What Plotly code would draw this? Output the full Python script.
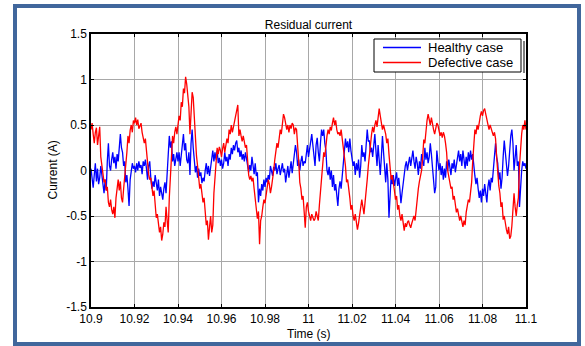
import numpy as np
import plotly.graph_objects as go

t_start, t_end, n_samples = 10.9, 11.1, 401
time_s = np.linspace(t_start, t_end, n_samples)

healthy = [
    0.02, -0.10, -0.19, -0.05, 0.08, -0.12, 0.02, -0.15, -0.08, 0.05,
    -0.05, -0.18, -0.25, -0.10, -0.22, 0.10, 0.30, 0.05, 0.00, 0.12,
    0.20, 0.08, 0.15, 0.02, 0.18, 0.10, 0.28, 0.40, 0.25, 0.20,
    0.05, 0.10, -0.13, -0.05, -0.20, -0.39, -0.10, 0.00, 0.08, 0.02,
    0.05, -0.02, 0.08, 0.00, 0.10, 0.03, 0.06, -0.04, 0.10, 0.05,
    0.12, 0.02, -0.10, 0.05, 0.10, -0.08, -0.20, -0.12, -0.18, -0.05,
    -0.13, -0.22, -0.10, -0.28, -0.18, -0.25, -0.32, -0.20, -0.13, -0.25,
    -0.05, 0.16, 0.38, 0.25, 0.32, 0.10, 0.18, 0.05, 0.12, 0.20,
    0.10, 0.20, 0.05, 0.15, 0.28, 0.40, 0.22, 0.30, 0.12, 0.08,
    0.20, -0.05, 0.30, 0.45, 0.25, 0.10, -0.02, 0.05, -0.08, 0.02,
    -0.06, -0.02, -0.14, -0.08, -0.12, 0.00, 0.08, -0.04, 0.05, -0.06,
    0.06, 0.15, 0.22, 0.10, 0.20, 0.12, 0.22, 0.08, 0.14, 0.05,
    0.12, 0.02, 0.08, 0.20, 0.10, 0.15, 0.05, 0.18, 0.12, 0.25,
    0.18, 0.28, 0.22, 0.30, 0.33, 0.20, 0.25, 0.15, 0.22, 0.12,
    0.18, 0.10, 0.20, 0.13, 0.05, -0.02, 0.06, 0.00, 0.15, 0.04,
    -0.04, 0.08, -0.06, -0.02, -0.35, -0.20, -0.28, -0.15, -0.22, -0.10,
    -0.18, -0.08, -0.13, -0.05, -0.10, 0.05, 0.00, -0.06, 0.04, 0.00,
    0.08, -0.04, 0.02, 0.06, -0.05, 0.04, 0.08, -0.02, 0.02, -0.13,
    -0.05, 0.05, -0.08, 0.02, 0.10, -0.03, 0.08, 0.15, 0.28, 0.20,
    0.05, 0.12, 0.00, 0.10, 0.16, 0.05, 0.10, 0.08, 0.20, 0.28,
    0.15, 0.22, 0.30, 0.40, 0.28, 0.15, 0.05, 0.28, 0.36, 0.20,
    0.10, 0.30, 0.45, 0.38, 0.45, 0.30, 0.22, 0.00, -0.05, 0.04,
    -0.10, 0.00, -0.18, -0.05, -0.22, -0.15, -0.25, -0.39, -0.20, -0.12,
    -0.20, -0.06, 0.05, 0.15, 0.35, 0.25, 0.32, 0.20, 0.35, 0.22,
    0.15, 0.05, 0.10, -0.05, 0.08, 0.00, 0.12, -0.08, 0.05, 0.28,
    0.15, 0.20, 0.10, 0.30, 0.45, 0.32, 0.33, 0.20, 0.25, 0.15,
    0.30, 0.40, 0.22, 0.05, 0.28, 0.10, -0.05, 0.15, 0.38, 0.20,
    0.05, -0.13, 0.08, -0.10, -0.52, -0.20, -0.06, -0.15, -0.05, -0.17,
    -0.10, -0.02, -0.17, -0.08, -0.20, -0.36, -0.25, -0.13, -0.05, 0.05,
    0.10, 0.00, 0.08, 0.15, 0.05, 0.12, 0.22, 0.10, 0.02, 0.15,
    0.08, -0.05, 0.10, 0.02, 0.18, 0.10, 0.05, 0.25, 0.12, 0.20,
    0.08, 0.15, 0.30, 0.18, 0.05, -0.10, -0.25, -0.18, 0.22, 0.10,
    0.00, 0.08, -0.05, 0.05, -0.10, 0.02, -0.08, 0.10, 0.00, 0.12,
    0.05, -0.05, 0.08, 0.02, 0.12, -0.02, 0.06, 0.15, 0.22, 0.10,
    0.18, 0.05, 0.22, 0.12, 0.02, 0.15, 0.05, 0.20, 0.10, 0.22,
    0.12, 0.18, 0.02, -0.06, -0.15, -0.08, -0.20, -0.30, -0.22, -0.35,
    -0.20, -0.28, -0.15, -0.25, -0.35, -0.18, -0.10, -0.22, -0.08, -0.13,
    0.05, 0.18, 0.30, 0.15, 0.08, -0.10, -0.02, -0.20, -0.08, 0.15,
    0.33, 0.20, 0.10, -0.06, 0.05, 0.25, 0.38, 0.45, 0.30, 0.00,
    0.15, 0.28, 0.05, 0.10, -0.40, -0.15, 0.00, 0.10, 0.05, 0.08,
    0.02,
]

defective = [
    0.45, 0.52, 0.40, 0.30, 0.42, 0.47, 0.28, 0.36, 0.48, 0.15,
    0.05, -0.06, -0.13, -0.10, -0.22, -0.18, -0.35, -0.40, -0.32, -0.43,
    -0.48, -0.40, -0.52, -0.30, -0.18, -0.10, -0.22, -0.12, -0.30, -0.35,
    -0.20, -0.08, 0.05, 0.20, 0.38, 0.30, 0.44, 0.50, 0.42, 0.55,
    0.52, 0.58, 0.50, 0.56, 0.46, 0.50, 0.52, 0.42, 0.36, 0.30,
    0.35, 0.22, 0.05, -0.04, -0.10, -0.08, -0.18, -0.28, -0.22, -0.40,
    -0.52, -0.48, -0.60, -0.68, -0.62, -0.77, -0.70, -0.57, -0.62, -0.40,
    -0.55, -0.68, -0.30, 0.00, 0.15, 0.38, 0.30, 0.42, 0.48, 0.40,
    0.52, 0.60, 0.55, 0.75, 0.70, 0.90, 0.85, 1.03, 0.95, 0.80,
    0.70, 0.40, 0.62, 0.86, 0.80, 0.55, 0.30, 0.16, 0.05, -0.08,
    -0.20, -0.15, -0.28, -0.35, -0.30, -0.48, -0.60, -0.55, -0.76, -0.62,
    -0.50, -0.68, -0.60, -0.25, -0.05, 0.12, 0.25, 0.18, 0.26, 0.22,
    0.15, 0.24, 0.30, 0.20, 0.28, 0.35, 0.30, 0.45, 0.40, 0.50,
    0.42, 0.48, 0.55, 0.60, 0.66, 0.72, 0.38, 0.45, 0.38, 0.32,
    0.38, 0.30, 0.25, 0.28, 0.10, -0.05, -0.10, -0.06, -0.12, -0.08,
    -0.20, -0.32, -0.40, -0.53, -0.45, -0.81, -0.55, -0.50, -0.40, -0.32,
    -0.36, -0.25, -0.18, -0.10, -0.15, -0.25, -0.18, -0.05, 0.00, 0.12,
    0.20, 0.30, 0.25, 0.38, 0.45, 0.40, 0.55, 0.62, 0.58, 0.52,
    0.45, 0.50, 0.42, 0.50, 0.46, 0.52, 0.50, 0.40, 0.47, 0.45,
    0.30, 0.10, -0.13, -0.20, -0.32, -0.28, -0.45, -0.63, -0.40, -0.35,
    -0.45, -0.50, -0.55, -0.48, -0.52, -0.55, -0.53, -0.45, -0.50, -0.55,
    -0.38, -0.25, -0.12, 0.00, 0.20, 0.15, 0.28, 0.38, 0.45, 0.40,
    0.48, 0.44, 0.52, 0.58, 0.50, 0.55, 0.45, 0.40, 0.42, 0.38,
    0.45, 0.36, 0.30, 0.15, 0.05, -0.13, -0.10, -0.25, -0.30, -0.43,
    -0.38, -0.50, -0.55, -0.48, -0.60, -0.65, -0.58, -0.50, -0.40, -0.32,
    -0.40, -0.48, -0.35, -0.25, -0.10, 0.05, 0.20, 0.34, 0.40, 0.48,
    0.42, 0.50, 0.55, 0.48, 0.58, 0.68, 0.60, 0.52, 0.45, 0.50,
    0.45, 0.40, 0.30, 0.35, 0.18, 0.05, -0.10, -0.05, -0.18, -0.22,
    -0.32, -0.28, -0.43, -0.38, -0.50, -0.55, -0.48, -0.60, -0.66, -0.58,
    -0.62, -0.57, -0.55, -0.60, -0.63, -0.58, -0.55, -0.50, -0.55, -0.40,
    -0.30, -0.20, -0.12, -0.05, 0.00, 0.15, 0.34, 0.30, 0.45, 0.55,
    0.62, 0.55, 0.50, 0.58, 0.48, 0.45, 0.40, 0.45, 0.52, 0.50,
    0.45, 0.38, 0.42, 0.36, 0.42, 0.38, 0.30, 0.20, 0.00, -0.08,
    -0.13, -0.20, -0.18, -0.32, -0.28, -0.40, -0.46, -0.42, -0.50, -0.55,
    -0.50, -0.58, -0.62, -0.55, -0.60, -0.46, -0.40, -0.32, -0.35, -0.25,
    -0.13, 0.10, 0.30, 0.45, 0.40, 0.50, 0.45, 0.55, 0.60, 0.65,
    0.60, 0.66, 0.68, 0.62, 0.55, 0.52, 0.45, 0.50, 0.45, 0.42,
    0.38, 0.42, 0.35, 0.15, -0.05, -0.17, -0.25, -0.40, -0.35, -0.54,
    -0.50, -0.60, -0.65, -0.70, -0.62, -0.75, -0.72, -0.61, -0.45, -0.25,
    -0.40, -0.50, -0.38, -0.30, 0.05, 0.25, 0.40, 0.50, 0.45, 0.55,
    0.45,
]

x_tickvals = [10.9, 10.92, 10.94, 10.96, 10.98, 11.0, 11.02, 11.04, 11.06, 11.08, 11.1]
x_ticktext = ["10.9", "10.92", "10.94", "10.96", "10.98", "11", "11.02", "11.04", "11.06", "11.08", "11.1"]
y_tickvals = [-1.5, -1.0, -0.5, 0.0, 0.5, 1.0, 1.5]
y_ticktext = ["-1.5", "-1", "-0.5", "0", "0.5", "1", "1.5"]

series_names = ["Healthy case", "Defective case"]
series_colors = ["#0000ff", "#ff0000"]
title_text = "Residual current"
x_title = "Time (s)"
y_title = "Current (A)"

# ---- figure ----
FONT = "Liberation Sans, Arial, Helvetica, sans-serif"
W, H = 585, 346
L, R, T, B = 91, 59, 34, 39
pw, ph = W - L - R, H - T - B

fig = go.Figure()
fig.add_trace(go.Scatter(x=time_s, y=healthy, mode="lines", name=series_names[0],
                         line=dict(color=series_colors[0], width=1.3), showlegend=False))
fig.add_trace(go.Scatter(x=time_s, y=defective, mode="lines", name=series_names[1],
                         line=dict(color=series_colors[1], width=1.3), showlegend=False))

def px2paper_x(px):
    return (px - L) / pw

def px2paper_y(py):
    return (H - B - py) / ph

# legend box geometry (pixels)
LG_X0, LG_X1, LG_Y0, LG_Y1 = 374, 521, 39, 72
LG_ROWS = [47.5, 62.5]

shapes = [
    # outer blue frame
    dict(type="rect", xref="paper", yref="paper",
         x0=px2paper_x(15), x1=px2paper_x(579), y0=px2paper_y(344), y1=px2paper_y(6),
         line=dict(color="#41679c", width=4), fillcolor="rgba(0,0,0,0)", layer="above"),
    # legend box
    dict(type="rect", xref="paper", yref="paper",
         x0=px2paper_x(LG_X0), x1=px2paper_x(LG_X1), y0=px2paper_y(LG_Y1), y1=px2paper_y(LG_Y0),
         line=dict(color="black", width=1), fillcolor="white", layer="above"),
    # legend shadow (right side)
    dict(type="line", xref="paper", yref="paper",
         x0=px2paper_x(LG_X1 + 3), x1=px2paper_x(LG_X1 + 3),
         y0=px2paper_y(LG_Y1 + 1), y1=px2paper_y(LG_Y0 + 2),
         line=dict(color="black", width=1), layer="above"),
]
annotations = [
    dict(text=x_title, xref="paper", yref="paper", x=0.5, y=px2paper_y(334),
         xanchor="center", yanchor="middle", showarrow=False,
         font=dict(size=12, color="black", family=FONT)),
    dict(text=y_title, xref="paper", yref="paper", x=px2paper_x(52), y=0.5,
         xanchor="center", yanchor="middle", showarrow=False, textangle=-90,
         font=dict(size=12, color="black", family=FONT)),
]
for name, color, row in zip(series_names, series_colors, LG_ROWS):
    shapes.append(dict(type="line", xref="paper", yref="paper",
                       x0=px2paper_x(383), x1=px2paper_x(421),
                       y0=px2paper_y(row), y1=px2paper_y(row),
                       line=dict(color=color, width=1.3), layer="above"))
    annotations.append(dict(text=name, xref="paper", yref="paper",
                            x=px2paper_x(426), y=px2paper_y(row),
                            xanchor="left", yanchor="middle", showarrow=False,
                            font=dict(size=13, color="black", family=FONT)))

fig.update_layout(
    width=W, height=H,
    margin=dict(l=L, r=R, t=T, b=B, pad=0, autoexpand=False),
    paper_bgcolor="white", plot_bgcolor="white",
    font=dict(family=FONT, size=12, color="black"),
    title=dict(text=title_text, x=(L + pw / 2) / W, xanchor="center",
               y=1 - 25 / H, yanchor="middle", font=dict(size=12, color="black")),
    showlegend=False,
    shapes=shapes,
    annotations=annotations,
)

fig.update_xaxes(range=[t_start, t_end], tickvals=x_tickvals, ticktext=x_ticktext,
                 showgrid=True, gridcolor="#a8a8a8", gridwidth=1, zeroline=False,
                 showline=True, linecolor="black", linewidth=1.5, mirror="allticks",
                 ticks="inside", ticklen=3, tickcolor="black",
                 automargin=False, tickfont=dict(size=12))
fig.update_yaxes(range=[-1.5, 1.5], tickvals=y_tickvals, ticktext=y_ticktext,
                 showgrid=True, gridcolor="#a8a8a8", gridwidth=1, zeroline=False,
                 showline=True, linecolor="black", linewidth=1.5, mirror="allticks",
                 ticks="inside", ticklen=3, tickcolor="black",
                 automargin=False, tickfont=dict(size=12))

fig.write_html("out.html", config={"displayModeBar": False},
               post_script="document.body.style.margin='0';document.body.style.overflow='hidden';")
